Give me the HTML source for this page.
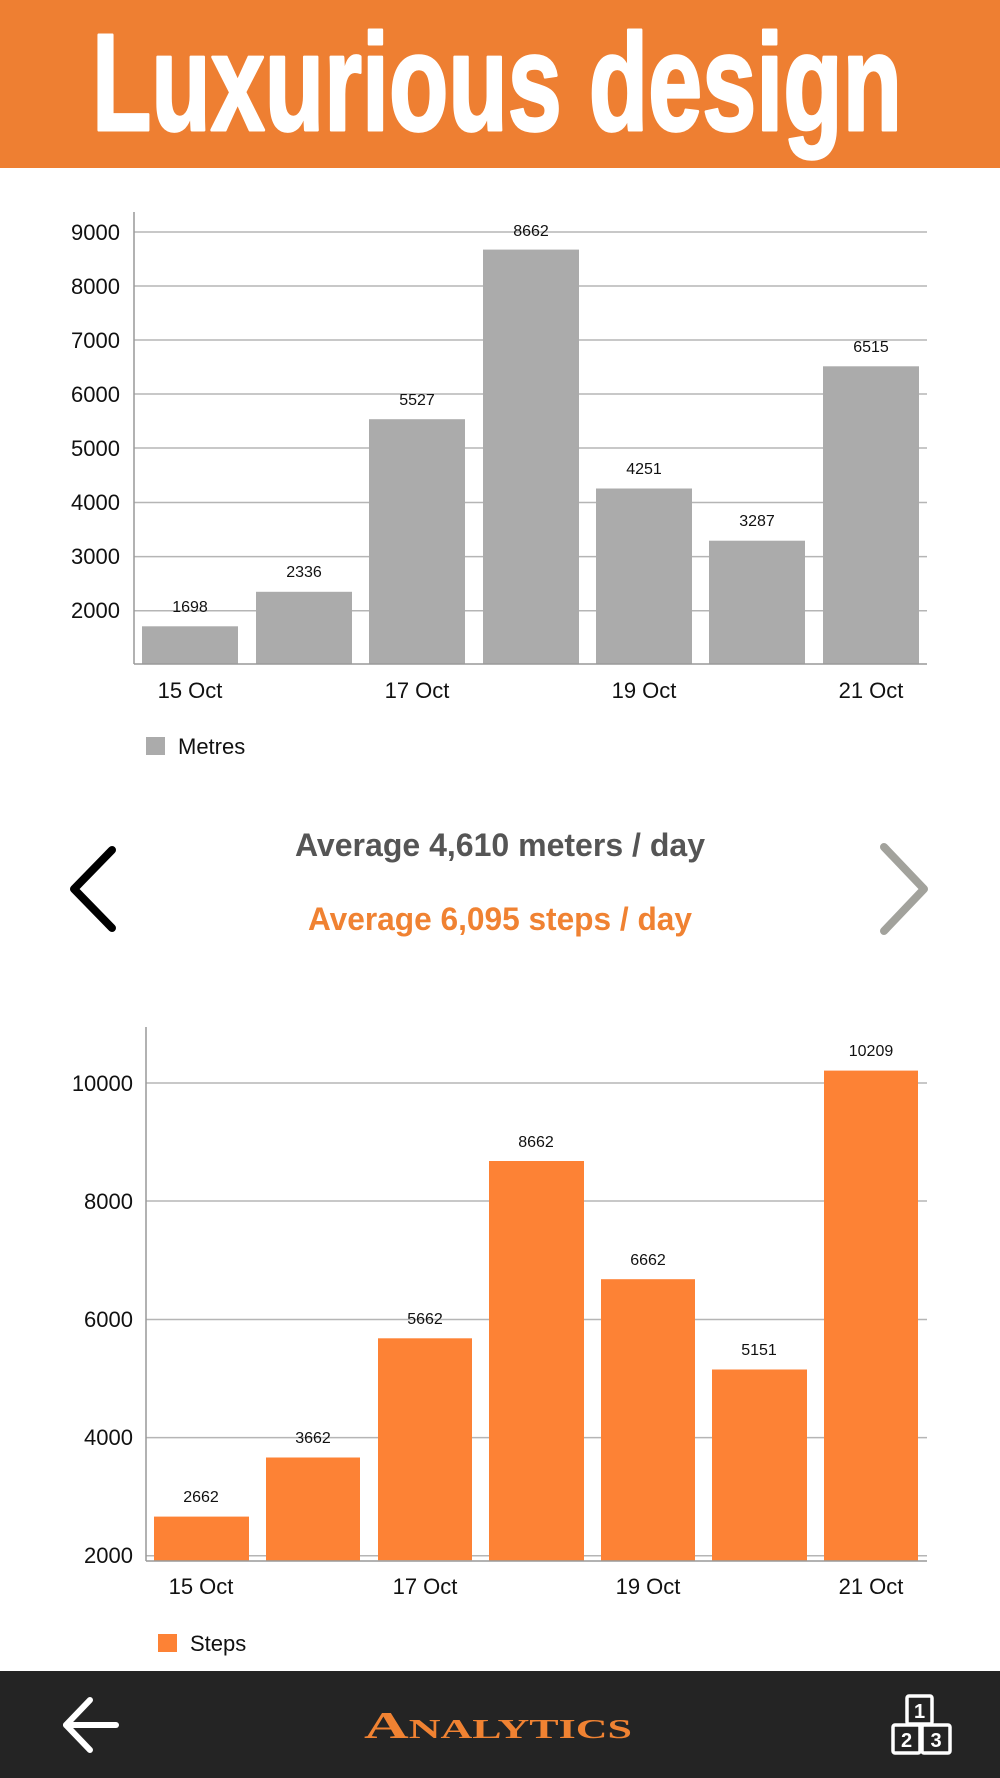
<!DOCTYPE html>
<html><head><meta charset="utf-8"><style>
html,body{margin:0;padding:0;background:#fff;}
svg{display:block;}
text{font-family:"Liberation Sans",sans-serif;}
</style></head><body>
<svg width="1000" height="1778" viewBox="0 0 1000 1778" xmlns="http://www.w3.org/2000/svg">
<rect x="0" y="0" width="1000" height="168" fill="#EE7F32"/>
<text x="497" y="130" text-anchor="middle" font-size="138" font-weight="bold" fill="#fff" stroke="#fff" stroke-width="3" stroke-linejoin="round" textLength="810" lengthAdjust="spacingAndGlyphs">Luxurious design</text>

<!-- Chart 1 -->
<g stroke="#b5b5b5" stroke-width="1.5">
<line x1="134" y1="232" x2="927" y2="232"/>
<line x1="134" y1="286" x2="927" y2="286"/>
<line x1="134" y1="340" x2="927" y2="340"/>
<line x1="134" y1="394" x2="927" y2="394"/>
<line x1="134" y1="448" x2="927" y2="448"/>
<line x1="134" y1="502.5" x2="927" y2="502.5"/>
<line x1="134" y1="556.6" x2="927" y2="556.6"/>
<line x1="134" y1="610.7" x2="927" y2="610.7"/>
</g>
<g fill="#ABABAB">
<rect x="142" y="626.3" width="96" height="37.7"/>
<rect x="256" y="591.8" width="96" height="72.2"/>
<rect x="369" y="419.2" width="96" height="244.8"/>
<rect x="483" y="249.6" width="96" height="414.4"/>
<rect x="596" y="488.5" width="96" height="175.5"/>
<rect x="709" y="540.7" width="96" height="123.3"/>
<rect x="823" y="366.3" width="96" height="297.7"/>
</g>
<line x1="134" y1="212" x2="134" y2="664" stroke="#999" stroke-width="1.5"/>
<line x1="134" y1="664" x2="927" y2="664" stroke="#999" stroke-width="1.5"/>
<g font-size="22" fill="#111" text-anchor="end">
<text x="120" y="240">9000</text><text x="120" y="294">8000</text><text x="120" y="348">7000</text><text x="120" y="402">6000</text>
<text x="120" y="456">5000</text><text x="120" y="510">4000</text><text x="120" y="564">3000</text><text x="120" y="618">2000</text>
</g>
<g font-size="16" fill="#111" text-anchor="middle">
<text x="190" y="612">1698</text><text x="304" y="577">2336</text><text x="417" y="405">5527</text><text x="531" y="236">8662</text>
<text x="644" y="474">4251</text><text x="757" y="526">3287</text><text x="871" y="352">6515</text>
</g>
<g font-size="22" fill="#111" text-anchor="middle">
<text x="190" y="698">15 Oct</text><text x="417" y="698">17 Oct</text><text x="644" y="698">19 Oct</text><text x="871" y="698">21 Oct</text>
</g>
<rect x="146" y="737" width="19" height="18" fill="#ABABAB"/>
<text x="178" y="754" font-size="22" fill="#111">Metres</text>

<!-- middle -->
<text x="500" y="856" text-anchor="middle" font-size="32" font-weight="bold" fill="#555" textLength="410" lengthAdjust="spacingAndGlyphs">Average 4,610 meters / day</text>
<text x="500" y="930" text-anchor="middle" font-size="32" font-weight="bold" fill="#F08232" textLength="384" lengthAdjust="spacingAndGlyphs">Average 6,095 steps / day</text>
<polyline points="112,850 74,889 112,928" fill="none" stroke="#000" stroke-width="8" stroke-linecap="round" stroke-linejoin="round"/>
<polyline points="884,847 924,889 884,931" fill="none" stroke="#A2A29C" stroke-width="8" stroke-linecap="round" stroke-linejoin="round"/>

<!-- Chart 2 -->
<g stroke="#b5b5b5" stroke-width="1.5">
<line x1="146" y1="1083" x2="927" y2="1083"/>
<line x1="146" y1="1201" x2="927" y2="1201"/>
<line x1="146" y1="1319.5" x2="927" y2="1319.5"/>
<line x1="146" y1="1437.6" x2="927" y2="1437.6"/>
<line x1="146" y1="1555.7" x2="927" y2="1555.7"/>
</g>
<g fill="#FD8235">
<rect x="154" y="1516.6" width="95" height="44"/>
<rect x="266" y="1457.5" width="94" height="103"/>
<rect x="378" y="1338.3" width="94" height="222"/>
<rect x="489" y="1161" width="95" height="400"/>
<rect x="601" y="1279.2" width="94" height="282"/>
<rect x="712" y="1369.5" width="95" height="191"/>
<rect x="824" y="1070.6" width="94" height="490"/>
</g>
<line x1="146" y1="1027" x2="146" y2="1561" stroke="#999" stroke-width="1.5"/>
<line x1="146" y1="1561" x2="927" y2="1561" stroke="#999" stroke-width="1.5"/>
<g font-size="22" fill="#111" text-anchor="end">
<text x="133" y="1091">10000</text><text x="133" y="1209">8000</text><text x="133" y="1327">6000</text><text x="133" y="1445">4000</text><text x="133" y="1563">2000</text>
</g>
<g font-size="16" fill="#111" text-anchor="middle">
<text x="201" y="1502">2662</text><text x="313" y="1443">3662</text><text x="425" y="1324">5662</text><text x="536" y="1147">8662</text>
<text x="648" y="1265">6662</text><text x="759" y="1355">5151</text><text x="871" y="1056">10209</text>
</g>
<g font-size="22" fill="#111" text-anchor="middle">
<text x="201" y="1594">15 Oct</text><text x="425" y="1594">17 Oct</text><text x="648" y="1594">19 Oct</text><text x="871" y="1594">21 Oct</text>
</g>
<rect x="158" y="1634" width="19" height="18" fill="#FD8235"/>
<text x="190" y="1651" font-size="22" fill="#111">Steps</text>

<!-- bottom bar -->
<rect x="0" y="1671" width="1000" height="107" fill="#242424"/>
<g fill="none" stroke="#fff" stroke-width="6" stroke-linecap="round" stroke-linejoin="round">
<line x1="66" y1="1725" x2="116" y2="1725"/>
<polyline points="90,1700 66,1725 90,1750"/>
</g>
<text x="498" y="1738" text-anchor="middle" font-size="38" font-weight="bold" fill="#F08232" style="font-variant:small-caps;font-family:'Liberation Serif',serif" textLength="268" lengthAdjust="spacingAndGlyphs">Analytics</text>
<g fill="none" stroke="#fff" stroke-width="3.5" stroke-linejoin="round">
<rect x="907" y="1696" width="25" height="28" rx="2"/>
<rect x="893" y="1725" width="27" height="28" rx="2"/>
<rect x="922" y="1725" width="28" height="28" rx="2"/>
</g>
<g font-size="20" font-weight="bold" fill="#fff" text-anchor="middle">
<text x="919.5" y="1718">1</text><text x="906.5" y="1747">2</text><text x="936" y="1747">3</text>
</g>
</svg>
</body></html>
